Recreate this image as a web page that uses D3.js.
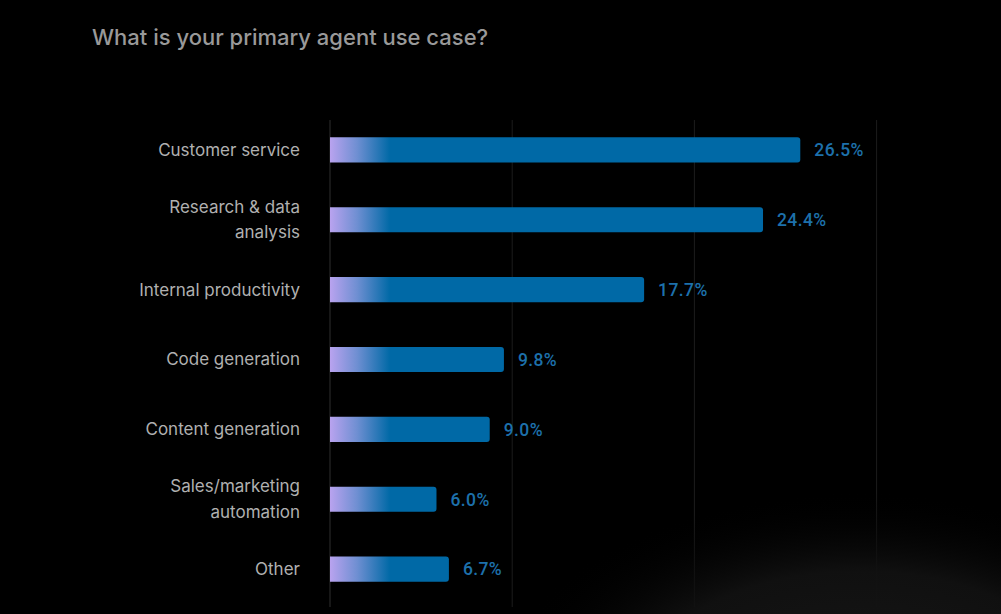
<!DOCTYPE html>
<html>
<head>
<meta charset="utf-8">
<script src="https://cdn.jsdelivr.net/npm/d3@7"></script>
<style>
	html, body { margin: 0; padding: 0; background: #000; }
	svg { display: block; }
</style>
</head>
<body>
<script>
// data
const categories = [
	"Customer service",
	"Research & data\nanalysis",
	"Internal productivity",
	"Code generation",
	"Content generation",
	"Sales/marketing\nautomation",
	"Other"
];
const shares = [26.5, 24.4, 17.7, 9.8, 9.0, 6.0, 6.7];
const valueLabels = ["26.5%", "24.4%", "17.7%", "9.8%", "9.0%", "6.0%", "6.7%"];
const xMax = 30.8;
const gridSteps = [0, 1, 2, 3]; // equal divisions of the x domain

const width = 1001;
const height = 614;

const svg = d3.select("body")
	.append("svg")
	.attr("width", width)
	.attr("height", height);

const defs = svg.append("defs");

svg.append("rect")
	.attr("width", width)
	.attr("height", height)
	.attr("fill", "#000");

const x = d3.scaleLinear()
	.domain([0, xMax])
	.range([330, 876.6]);

const y = d3.scaleBand()
	.domain(categories)
	.range([115, 604])
	.paddingInner(0.64)
	.paddingOuter(0.32);

// bar fill: lavender fading into blue over the first few pixels
const grad = defs.append("linearGradient")
	.attr("id", "barFill")
	.attr("gradientUnits", "userSpaceOnUse")
	.attr("x1", x(0))
	.attr("x2", x(0) + 60)
	.attr("y1", 0)
	.attr("y2", 0);
grad.append("stop").attr("offset", 0).attr("stop-color", "#b9a3ef");
grad.append("stop").attr("offset", 0.45).attr("stop-color", "#6f8fd2");
grad.append("stop").attr("offset", 1).attr("stop-color", "#0069a6");

// faint glow in the lower right corner
const glow = defs.append("radialGradient")
	.attr("id", "glow")
	.attr("gradientUnits", "userSpaceOnUse")
	.attr("cx", 860)
	.attr("cy", 690)
	.attr("r", 360)
	.attr("gradientTransform", "translate(860,690) scale(1,0.55) translate(-860,-690)");
glow.append("stop").attr("offset", 0).attr("stop-color", "#171717").attr("stop-opacity", 1);
glow.append("stop").attr("offset", 0.6).attr("stop-color", "#111").attr("stop-opacity", 0.95);
glow.append("stop").attr("offset", 1).attr("stop-color", "#000").attr("stop-opacity", 0);

// gridlines
svg.append("g")
	.selectAll("line")
	.data(gridSteps)
	.join("line")
	.attr("x1", d => x(d * xMax / 3))
	.attr("x2", d => x(d * xMax / 3))
	.attr("y1", 120)
	.attr("y2", 607)
	.attr("stroke", d => d === 0 ? "#2e2e2e" : "#1c1c1c")
	.attr("stroke-width", 1);

svg.append("rect")
	.attr("width", width)
	.attr("height", height)
	.attr("fill", "url(#glow)");

// title
svg.append("text")
	.attr("x", 92)
	.attr("y", 45)
	.attr("font-family", "Inter, 'Noto Sans', sans-serif")
	.attr("font-size", 22)
	.attr("font-weight", 500)
	.attr("fill", "#999")
	.text("What is your primary agent use case?");

const rows = svg.append("g")
	.selectAll("g")
	.data(categories.map((c, i) => ({ name: c, value: shares[i], label: valueLabels[i] })))
	.join("g");

// bars: square on the axis side, rounded at the end
const r = 3;
rows.append("path")
	.attr("fill", "url(#barFill)")
	.attr("d", d => {
		const x0 = x(0), x1 = x(d.value);
		const y0 = y(d.name), h = y.bandwidth();
		return `M${x0},${y0}H${x1 - r}Q${x1},${y0} ${x1},${y0 + r}V${y0 + h - r}Q${x1},${y0 + h} ${x1 - r},${y0 + h}H${x0}Z`;
	});

rows.append("text")
	.attr("x", d => x(d.value) + 14)
	.attr("y", d => y(d.name) + y.bandwidth() / 2)
	.attr("dy", "0.36em")
	.attr("font-family", "Roboto, sans-serif")
	.attr("font-size", 17.5)
	.attr("font-weight", 500)
	.attr("letter-spacing", 0.4)
	.attr("fill", "#1d70ab")
	.text(d => d.label);

// category labels, wrapped where the reference wraps
const lineHeight = 25.5;
rows.append("text")
	.attr("text-anchor", "end")
	.attr("font-family", "Inter, 'Noto Sans', sans-serif")
	.attr("font-size", 17)
	.attr("fill", "#b0b0b0")
	.each(function (d) {
		const lines = d.name.split("\n");
		const cy = y(d.name) + y.bandwidth() / 2;
		const top = cy - (lines.length - 1) * lineHeight / 2;
		d3.select(this)
			.selectAll("tspan")
			.data(lines)
			.join("tspan")
			.attr("x", 300)
			.attr("y", (l, i) => top + i * lineHeight)
			.attr("dy", "0.35em")
			.text(l => l);
	});
</script>
</body>
</html>
